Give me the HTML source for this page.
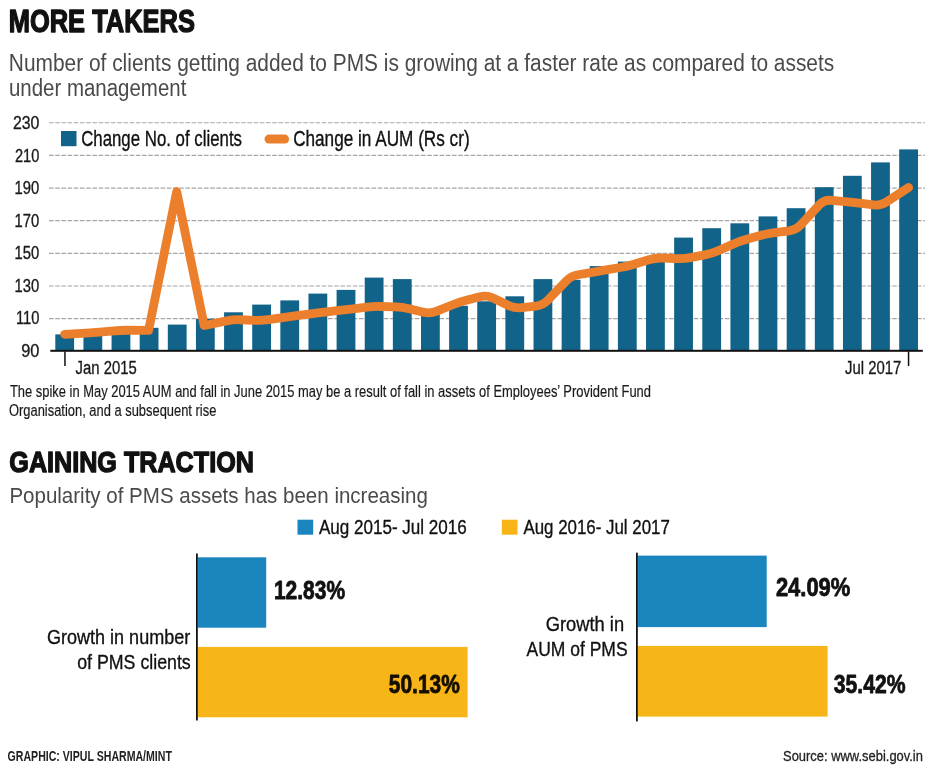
<!DOCTYPE html>
<html><head><meta charset="utf-8"><title>More takers / Gaining traction</title>
<style>
html,body{margin:0;padding:0;background:#fff;}
body{width:932px;height:774px;overflow:hidden;}
svg{display:block;will-change:transform;font-family:"Liberation Sans",Arial,sans-serif;}
</style></head><body>
<svg width="932" height="774" viewBox="0 0 932 774">
<rect width="932" height="774" fill="#fff"/>
<line x1="49" y1="122.75" x2="925" y2="122.75" stroke="#a6a6a6" stroke-width="1.2" stroke-dasharray="4.6 1.6"/>
<line x1="49" y1="155.40" x2="925" y2="155.40" stroke="#a6a6a6" stroke-width="1.2" stroke-dasharray="4.6 1.6"/>
<line x1="49" y1="188.05" x2="925" y2="188.05" stroke="#a6a6a6" stroke-width="1.2" stroke-dasharray="4.6 1.6"/>
<line x1="49" y1="220.70" x2="925" y2="220.70" stroke="#a6a6a6" stroke-width="1.2" stroke-dasharray="4.6 1.6"/>
<line x1="49" y1="253.35" x2="925" y2="253.35" stroke="#a6a6a6" stroke-width="1.2" stroke-dasharray="4.6 1.6"/>
<line x1="49" y1="286.00" x2="925" y2="286.00" stroke="#a6a6a6" stroke-width="1.2" stroke-dasharray="4.6 1.6"/>
<line x1="49" y1="318.65" x2="925" y2="318.65" stroke="#a6a6a6" stroke-width="1.2" stroke-dasharray="4.6 1.6"/>
<rect x="55.30" y="334.40" width="18.8" height="15.60" fill="#12638a"/>
<rect x="83.43" y="334.00" width="18.8" height="16.00" fill="#12638a"/>
<rect x="111.56" y="332.50" width="18.8" height="17.50" fill="#12638a"/>
<rect x="139.69" y="327.80" width="18.8" height="22.20" fill="#12638a"/>
<rect x="167.82" y="324.60" width="18.8" height="25.40" fill="#12638a"/>
<rect x="195.95" y="318.80" width="18.8" height="31.20" fill="#12638a"/>
<rect x="224.08" y="312.30" width="18.8" height="37.70" fill="#12638a"/>
<rect x="252.21" y="304.60" width="18.8" height="45.40" fill="#12638a"/>
<rect x="280.34" y="300.40" width="18.8" height="49.60" fill="#12638a"/>
<rect x="308.47" y="293.60" width="18.8" height="56.40" fill="#12638a"/>
<rect x="336.60" y="289.90" width="18.8" height="60.10" fill="#12638a"/>
<rect x="364.73" y="277.60" width="18.8" height="72.40" fill="#12638a"/>
<rect x="392.86" y="279.10" width="18.8" height="70.90" fill="#12638a"/>
<rect x="420.99" y="313.00" width="18.8" height="37.00" fill="#12638a"/>
<rect x="449.12" y="305.80" width="18.8" height="44.20" fill="#12638a"/>
<rect x="477.25" y="301.30" width="18.8" height="48.70" fill="#12638a"/>
<rect x="505.38" y="296.30" width="18.8" height="53.70" fill="#12638a"/>
<rect x="533.51" y="279.10" width="18.8" height="70.90" fill="#12638a"/>
<rect x="561.64" y="279.80" width="18.8" height="70.20" fill="#12638a"/>
<rect x="589.77" y="266.10" width="18.8" height="83.90" fill="#12638a"/>
<rect x="617.90" y="261.60" width="18.8" height="88.40" fill="#12638a"/>
<rect x="646.03" y="258.50" width="18.8" height="91.50" fill="#12638a"/>
<rect x="674.16" y="237.60" width="18.8" height="112.40" fill="#12638a"/>
<rect x="702.29" y="228.20" width="18.8" height="121.80" fill="#12638a"/>
<rect x="730.42" y="223.30" width="18.8" height="126.70" fill="#12638a"/>
<rect x="758.55" y="216.40" width="18.8" height="133.60" fill="#12638a"/>
<rect x="786.68" y="208.20" width="18.8" height="141.80" fill="#12638a"/>
<rect x="814.81" y="187.20" width="18.8" height="162.80" fill="#12638a"/>
<rect x="842.94" y="175.80" width="18.8" height="174.20" fill="#12638a"/>
<rect x="871.07" y="162.40" width="18.8" height="187.60" fill="#12638a"/>
<rect x="899.20" y="149.40" width="18.8" height="200.60" fill="#12638a"/>
<rect x="50.3" y="349.8" width="872.5" height="2" fill="#111"/>
<rect x="64.2" y="351.5" width="1.5" height="14.5" fill="#111"/>
<rect x="907.8" y="351.5" width="1.5" height="14.5" fill="#111"/>
<path d="M64.70,334.28 L85.84,333.03 Q92.83,332.61 99.80,332.01 L113.99,330.79 Q120.96,330.19 127.96,330.24 L148.60,330.40 L176.70,191.50 L204.20,325.50 L226.62,320.87 Q233.48,319.45 240.47,319.75 L254.62,320.34 Q261.61,320.63 268.54,319.62 L282.81,317.53 Q289.74,316.52 296.68,315.64 L310.93,313.84 Q317.87,312.96 324.82,312.15 L339.05,310.49 Q346.00,309.68 352.95,308.85 L367.18,307.13 Q374.13,306.30 381.13,306.50 L395.26,306.92 Q402.26,307.13 409.07,308.75 L423.58,312.20 Q430.39,313.82 436.87,311.18 L452.04,305.01 Q458.52,302.37 465.30,300.61 L479.87,296.84 Q486.65,295.08 492.97,298.09 L508.46,305.47 Q514.78,308.48 521.74,307.70 L535.95,306.10 Q542.91,305.32 547.75,300.26 L566.20,280.98 Q571.04,275.92 577.94,274.75 L592.27,272.32 Q599.17,271.15 606.07,269.96 L620.40,267.50 Q627.30,266.31 634.00,264.27 L648.73,259.78 Q655.43,257.74 662.42,258.02 L676.57,258.58 Q683.56,258.86 690.44,257.59 L704.81,254.93 Q711.69,253.65 718.09,250.81 L733.42,244.01 Q739.82,241.18 746.57,239.31 L761.20,235.26 Q767.95,233.40 774.90,232.55 L789.13,230.82 Q796.08,229.98 800.84,224.85 L819.45,204.81 Q824.21,199.68 831.18,200.30 L845.37,201.56 Q852.34,202.18 859.28,203.07 L873.53,204.87 Q880.47,205.75 886.34,201.94 L908.60,187.50" fill="none" stroke="#ec7f2b" stroke-width="8.8" stroke-linejoin="round" stroke-linecap="round"/>
<rect x="61" y="131" width="15.5" height="15.2" fill="#12638a"/>
<line x1="269" y1="139.1" x2="284.6" y2="139.1" stroke="#ec7f2b" stroke-width="9" stroke-linecap="round"/>
<rect x="297.5" y="519.7" width="15.7" height="15" fill="#1b85be"/>
<rect x="501.8" y="519.7" width="15.7" height="15" fill="#f7b518"/>
<rect x="197.8" y="557.3" width="68.4" height="70.4" fill="#1b85be"/>
<rect x="197.8" y="646.9" width="269.8" height="70.4" fill="#f7b518"/>
<rect x="196" y="553.5" width="1.8" height="167" fill="#111"/>
<rect x="637.7" y="555.6" width="129" height="71.5" fill="#1b85be"/>
<rect x="637.7" y="645.9" width="189.9" height="70.7" fill="#f7b518"/>
<rect x="636" y="552.7" width="1.8" height="168.7" fill="#111"/>
<text id="t1" x="8.72" y="31.60" font-size="32.20" font-weight="bold" fill="#111" stroke="#111" stroke-width="1.4" stroke-linejoin="round" textLength="186.19" lengthAdjust="spacingAndGlyphs">MORE TAKERS</text>
<text id="t2" x="8.87" y="70.75" font-size="23.33" font-weight="normal" fill="#4a4a4a" textLength="825.37" lengthAdjust="spacingAndGlyphs">Number of clients getting added to PMS is growing at a faster rate as compared to assets</text>
<text id="t3" x="8.89" y="95.70" font-size="23.33" font-weight="normal" fill="#4a4a4a" textLength="177.45" lengthAdjust="spacingAndGlyphs">under management</text>
<text id="y230" x="12.92" y="129.00" font-size="18.90" font-weight="normal" fill="#1a1a1a" stroke="#1a1a1a" stroke-width="0.35" stroke-linejoin="round" textLength="26.49" lengthAdjust="spacingAndGlyphs">230</text>
<text id="y210" x="14.99" y="161.60" font-size="18.90" font-weight="normal" fill="#1a1a1a" stroke="#1a1a1a" stroke-width="0.35" stroke-linejoin="round" textLength="24.41" lengthAdjust="spacingAndGlyphs">210</text>
<text id="y190" x="14.58" y="194.30" font-size="18.90" font-weight="normal" fill="#1a1a1a" stroke="#1a1a1a" stroke-width="0.35" stroke-linejoin="round" textLength="24.73" lengthAdjust="spacingAndGlyphs">190</text>
<text id="y170" x="14.58" y="226.60" font-size="18.90" font-weight="normal" fill="#1a1a1a" stroke="#1a1a1a" stroke-width="0.35" stroke-linejoin="round" textLength="24.73" lengthAdjust="spacingAndGlyphs">170</text>
<text id="y150" x="14.58" y="259.00" font-size="18.90" font-weight="normal" fill="#1a1a1a" stroke="#1a1a1a" stroke-width="0.35" stroke-linejoin="round" textLength="24.73" lengthAdjust="spacingAndGlyphs">150</text>
<text id="y130" x="14.58" y="291.70" font-size="18.90" font-weight="normal" fill="#1a1a1a" stroke="#1a1a1a" stroke-width="0.35" stroke-linejoin="round" textLength="24.73" lengthAdjust="spacingAndGlyphs">130</text>
<text id="y110" x="15.95" y="324.30" font-size="18.90" font-weight="normal" fill="#1a1a1a" stroke="#1a1a1a" stroke-width="0.35" stroke-linejoin="round" textLength="23.50" lengthAdjust="spacingAndGlyphs">110</text>
<text id="y90" x="21.21" y="357.00" font-size="18.90" font-weight="normal" fill="#1a1a1a" stroke="#1a1a1a" stroke-width="0.35" stroke-linejoin="round" textLength="18.20" lengthAdjust="spacingAndGlyphs">90</text>
<text id="lg1" x="81.16" y="145.80" font-size="21.80" font-weight="normal" fill="#111" stroke="#111" stroke-width="0.35" stroke-linejoin="round" textLength="160.85" lengthAdjust="spacingAndGlyphs">Change No. of clients</text>
<text id="lg2" x="293.13" y="145.60" font-size="21.51" font-weight="normal" fill="#111" stroke="#111" stroke-width="0.35" stroke-linejoin="round" textLength="176.51" lengthAdjust="spacingAndGlyphs">Change in AUM (Rs cr)</text>
<text id="jan" x="75.59" y="374.00" font-size="19.19" font-weight="normal" fill="#1a1a1a" stroke="#1a1a1a" stroke-width="0.35" stroke-linejoin="round" textLength="61.16" lengthAdjust="spacingAndGlyphs">Jan 2015</text>
<text id="jul" x="845.02" y="373.80" font-size="19.19" font-weight="normal" fill="#1a1a1a" stroke="#1a1a1a" stroke-width="0.35" stroke-linejoin="round" textLength="56.31" lengthAdjust="spacingAndGlyphs">Jul 2017</text>
<text id="fn1" x="9.92" y="396.50" font-size="16.86" font-weight="normal" fill="#1a1a1a" stroke="#1a1a1a" stroke-width="0.2" stroke-linejoin="round" textLength="641.09" lengthAdjust="spacingAndGlyphs">The spike in May 2015 AUM and fall in June 2015 may be a result of fall in assets of Employees’ Provident Fund</text>
<text id="fn2" x="8.96" y="415.50" font-size="16.86" font-weight="normal" fill="#1a1a1a" stroke="#1a1a1a" stroke-width="0.2" stroke-linejoin="round" textLength="207.38" lengthAdjust="spacingAndGlyphs">Organisation, and a subsequent rise</text>
<text id="t4" x="9.32" y="471.80" font-size="30.30" font-weight="bold" fill="#111" stroke="#111" stroke-width="1.4" stroke-linejoin="round" textLength="244.58" lengthAdjust="spacingAndGlyphs">GAINING TRACTION</text>
<text id="t5" x="9.38" y="502.80" font-size="21.66" font-weight="normal" fill="#4a4a4a" textLength="418.53" lengthAdjust="spacingAndGlyphs">Popularity of PMS assets has been increasing</text>
<text id="lg3" x="318.91" y="534.20" font-size="20.79" font-weight="normal" fill="#111" stroke="#111" stroke-width="0.35" stroke-linejoin="round" textLength="147.89" lengthAdjust="spacingAndGlyphs">Aug 2015- Jul 2016</text>
<text id="lg4" x="523.40" y="534.20" font-size="20.79" font-weight="normal" fill="#111" stroke="#111" stroke-width="0.35" stroke-linejoin="round" textLength="146.49" lengthAdjust="spacingAndGlyphs">Aug 2016- Jul 2017</text>
<text id="p1" x="273.95" y="599.10" font-size="25.40" font-weight="bold" fill="#111" stroke="#111" stroke-width="0.8" stroke-linejoin="round" textLength="71.08" lengthAdjust="spacingAndGlyphs">12.83%</text>
<text id="p2" x="388.85" y="692.60" font-size="26.20" font-weight="bold" fill="#140e00" stroke="#140e00" stroke-width="0.8" stroke-linejoin="round" textLength="70.93" lengthAdjust="spacingAndGlyphs">50.13%</text>
<text id="p3" x="775.88" y="596.40" font-size="25.40" font-weight="bold" fill="#111" stroke="#111" stroke-width="0.8" stroke-linejoin="round" textLength="74.48" lengthAdjust="spacingAndGlyphs">24.09%</text>
<text id="p4" x="833.68" y="693.10" font-size="26.50" font-weight="bold" fill="#111" stroke="#111" stroke-width="0.8" stroke-linejoin="round" textLength="71.93" lengthAdjust="spacingAndGlyphs">35.42%</text>
<text id="g1" x="46.89" y="644.00" font-size="20.49" font-weight="normal" fill="#111" stroke="#111" stroke-width="0.35" stroke-linejoin="round" textLength="143.42" lengthAdjust="spacingAndGlyphs">Growth in number</text>
<text id="g2" x="77.23" y="668.90" font-size="20.49" font-weight="normal" fill="#111" stroke="#111" stroke-width="0.35" stroke-linejoin="round" textLength="113.51" lengthAdjust="spacingAndGlyphs">of PMS clients</text>
<text id="g3" x="545.69" y="631.20" font-size="20.49" font-weight="normal" fill="#111" stroke="#111" stroke-width="0.35" stroke-linejoin="round" textLength="78.40" lengthAdjust="spacingAndGlyphs">Growth in</text>
<text id="g4" x="526.53" y="656.30" font-size="20.49" font-weight="normal" fill="#111" stroke="#111" stroke-width="0.35" stroke-linejoin="round" textLength="101.06" lengthAdjust="spacingAndGlyphs">AUM of PMS</text>
<text id="ft1" x="7.62" y="761.20" font-size="13.81" font-weight="bold" fill="#222" textLength="164.26" lengthAdjust="spacingAndGlyphs">GRAPHIC: VIPUL SHARMA/MINT</text>
<text id="ft2" x="783.07" y="760.60" font-size="15.50" font-weight="normal" fill="#222" stroke="#222" stroke-width="0.3" stroke-linejoin="round" textLength="139.87" lengthAdjust="spacingAndGlyphs">Source: www.sebi.gov.in</text>
</svg>
</body></html>
